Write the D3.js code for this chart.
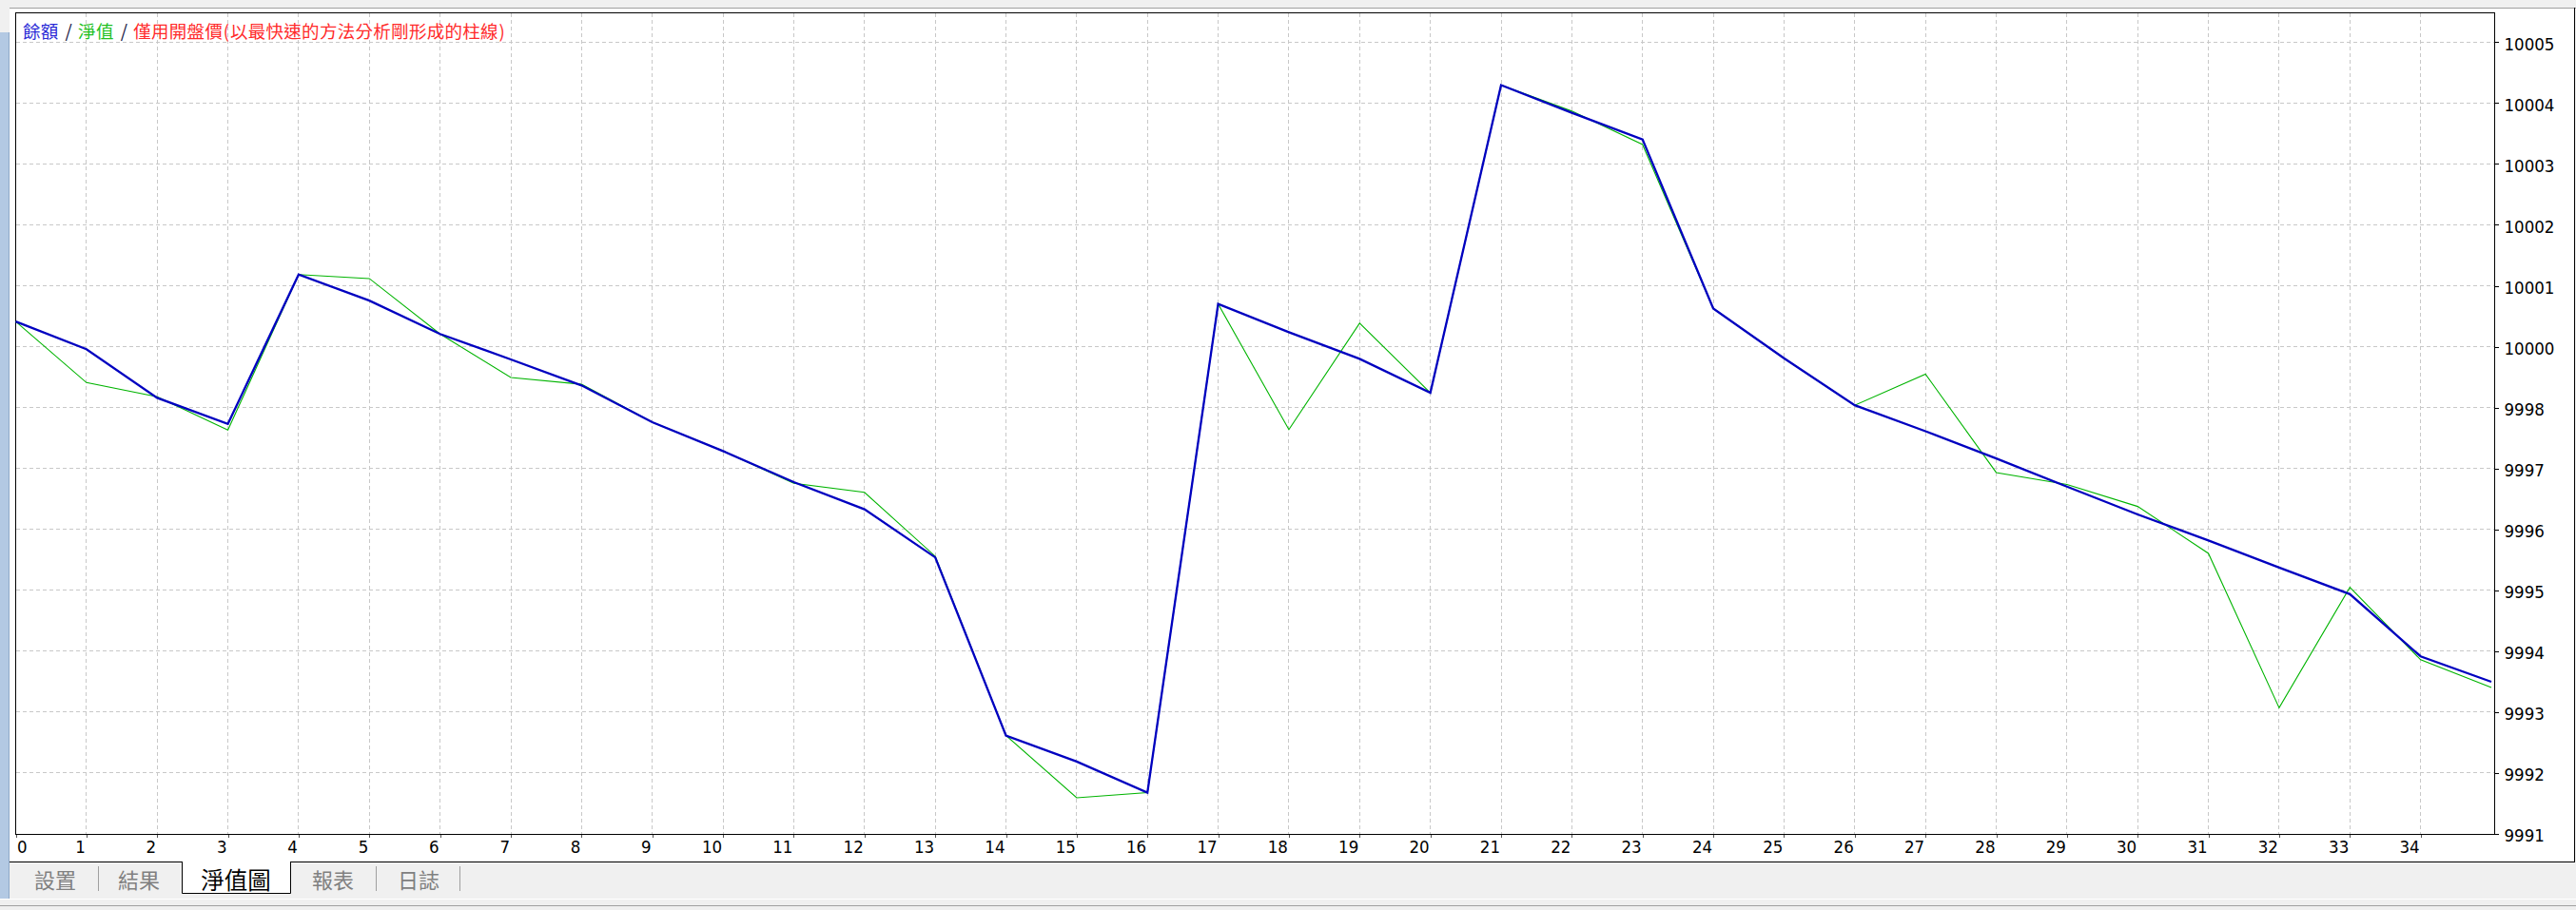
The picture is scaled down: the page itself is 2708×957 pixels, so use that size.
<!DOCTYPE html>
<html><head><meta charset="utf-8">
<script src="https://cdn.jsdelivr.net/npm/d3@7"></script>
<style>
html,body{margin:0;padding:0;background:#f0f0f0;overflow:hidden;}
svg{display:block;}
</style></head><body>
<svg id="c" width="2708" height="957"></svg>
<script>
// ---------- data ----------
const xTickLabels = [0,1,2,3,4,5,6,7,8,9,10,11,12,13,14,15,16,17,18,19,20,21,22,23,24,25,26,27,28,29,30,31,32,33,34];
const yTickLabels = ["9991","9992","9993","9994","9995","9996","9997","9998","10000","10001","10002","10003","10004","10005"];
const yMin = 9991, yMax = 10005;
const balance = [10000.06, 9999.57, 9998.71, 9998.25, 10000.89, 10000.43, 9999.84, 9999.39, 9998.93, 9998.28,
  9997.77, 9997.22, 9996.74, 9995.89, 9992.74, 9992.28, 9991.73, 10000.37, 9999.87, 9999.40,
  9998.80, 10004.24, 10003.75, 10003.28, 10000.29, 9999.41, 9998.58, 9998.12, 9997.64, 9997.14,
  9996.65, 9996.19, 9995.71, 9995.24, 9994.14, 9993.69];
const equity = [10000.06, 9998.98, 9998.73, 9998.14, 10000.89, 10000.82, 9999.84, 9999.07, 9998.95, 9998.28,
  9997.77, 9997.20, 9997.04, 9995.91, 9992.74, 9991.64, 9991.73, 10000.37, 9998.15, 10000.03,
  9998.80, 10004.24, 10003.78, 10003.19, 10000.29, 9999.41, 9998.58, 9999.13, 9997.39, 9997.18,
  9996.79, 9995.96, 9993.23, 9995.36, 9994.08, 9993.59];
const titleTexts = ["餘額", " / ", "淨值", " / ", "僅用開盤價(以最快速的方法分析剛形成的柱線)"];
const titleColors = ["#2a2ad6", "#101040", "#22c022", "#101040", "#ff2a2a"];
const tabs = ["設置", "結果", "淨值圖", "報表", "日誌"];
const selectedTab = 2;

// ---------- layout ----------
const W = 2708, H = 957;
const plot = {left: 16.5, right: 2622.5, top: 13.5, bottom: 877.5};
const svg = d3.select("#c");

const x = d3.scaleLinear().domain([0, balance.length - 1]).range([16.5, 2619]);
const y = d3.scaleLinear().domain([yMin, yMax]).range([877, 44.3]);
const yTickValues = yTickLabels.map((_, i) => yMin + i * (yMax - yMin) / (yTickLabels.length - 1));

// window chrome
svg.append("rect").attr("x", 10).attr("y", 8).attr("width", 2697).attr("height", 898).attr("fill", "#ffffff");
svg.append("line").attr("x1", 10).attr("x2", W).attr("y1", 8.5).attr("y2", 8.5).attr("stroke", "#a0a0a0");
svg.append("rect").attr("x", 0).attr("y", 34).attr("width", 9).attr("height", 911).attr("fill", "#b3c9e3");
svg.append("line").attr("x1", 9.5).attr("x2", 9.5).attr("y1", 34).attr("y2", 945).attr("stroke", "#8ea8c8");
svg.append("line").attr("x1", 2706.5).attr("x2", 2706.5).attr("y1", 8).attr("y2", 907).attr("stroke", "#000");

// grid
const grid = svg.append("g").attr("shape-rendering", "crispEdges")
  .attr("stroke", "#c8c8c8").attr("stroke-dasharray", "4,3").attr("stroke-width", 1);
grid.selectAll("line.v").data(xTickLabels.filter(d => d > 0)).join("line").attr("class", "v")
  .attr("x1", d => x(d)).attr("x2", d => x(d)).attr("y1", plot.top).attr("y2", plot.bottom);
grid.selectAll("line.h").data(yTickValues.slice(1)).join("line").attr("class", "h")
  .attr("x1", plot.left).attr("x2", plot.right).attr("y1", d => y(d)).attr("y2", d => y(d));

// plot border
svg.append("rect").attr("x", plot.left).attr("y", plot.top)
  .attr("width", plot.right - plot.left).attr("height", plot.bottom - plot.top)
  .attr("fill", "none").attr("stroke", "#000").attr("shape-rendering", "crispEdges");

// series
const line = d3.line().x((d, i) => x(i)).y(d => y(d));
svg.append("path").datum(equity).attr("d", line).attr("fill", "none")
  .attr("stroke", "#00b400").attr("stroke-width", 1.1);
svg.append("path").datum(balance).attr("d", line).attr("fill", "none")
  .attr("stroke", "#0000c0").attr("stroke-width", 2.3).attr("stroke-linejoin", "miter");

// y axis (right)
const axisFont = "'DejaVu Sans Condensed','Liberation Sans',sans-serif";
const yAxis = d3.axisRight(y).tickValues(yTickValues)
  .tickFormat((d, i) => yTickLabels[i]).tickSize(4).tickPadding(6);
const gy = svg.append("g").attr("transform", `translate(${plot.right},0)`).call(yAxis);
gy.select(".domain").remove();
gy.selectAll(".tick line").attr("stroke", "#000").attr("shape-rendering", "crispEdges");
gy.selectAll(".tick text").attr("fill", "#000")
  .style("font-family", axisFont).style("font-size", "18.5px").attr("dy", "0.42em");

// x axis (bottom)
const xAxis = d3.axisBottom(x).tickValues(xTickLabels).tickFormat(d => String(d)).tickSize(3).tickPadding(4);
const gx = svg.append("g").attr("transform", `translate(0,${plot.bottom})`).call(xAxis);
gx.select(".domain").remove();
gx.selectAll(".tick line").attr("stroke", "#555").attr("shape-rendering", "crispEdges");
gx.selectAll(".tick text").attr("fill", "#000")
  .style("font-family", axisFont).style("font-size", "18.5px")
  .attr("y", 13.5).attr("dy", "0.35em")
  .attr("text-anchor", (d, i) => i === 0 ? "start" : "end")
  .attr("x", (d, i) => i === 0 ? 1 : -1.5);

// title: half-width latin, full-width CJK
const title = svg.append("text").attr("y", 31.5).attr("dominant-baseline", "central")
  .style("font-family", "'Noto Sans CJK TC','Noto Sans CJK SC',sans-serif").style("font-size", "18.5px");
let cursor = 24;
const isCJK = ch => /[\u3400-\u9fff]/.test(ch);
const adv = ch => isCJK(ch) ? 18.8 : (ch === " " ? 6.5 : (ch === "/" ? 7.5 : 7.7));
titleTexts.forEach((t, k) => {
  for (const ch of t) {
    if (ch !== " ") {
      title.append("tspan").attr("x", cursor + (isCJK(ch) ? 0 : 0.5)).attr("fill", titleColors[k]).text(ch);
    }
    cursor += adv(ch);
  }
});

// tab bar
const tabCenters = [58, 146, 248, 350, 440];
const sepXs = [103.5, 395.5, 483.5];
svg.append("line").attr("x1", 10).attr("x2", 191).attr("y1", 906.5).attr("y2", 906.5).attr("stroke", "#000");
svg.append("line").attr("x1", 306).attr("x2", 2707).attr("y1", 906.5).attr("y2", 906.5).attr("stroke", "#000");
svg.append("path").attr("d", "M191.5,906 V939.5 H305.5 V906").attr("fill", "#fff").attr("stroke", "#000");
svg.append("rect").attr("x", 192).attr("y", 905).attr("width", 113).attr("height", 2).attr("fill", "#fff");
svg.selectAll("line.sep").data(sepXs).join("line").attr("class", "sep")
  .attr("x1", d => d).attr("x2", d => d).attr("y1", 911).attr("y2", 937).attr("stroke", "#a0a0a0");
svg.selectAll("text.tab").data(tabs).join("text").attr("class", "tab")
  .attr("x", (d, i) => tabCenters[i]).attr("y", 924).attr("text-anchor", "middle")
  .attr("dominant-baseline", "central")
  .style("font-family", "'Noto Sans CJK TC','Noto Sans CJK SC',sans-serif")
  .style("font-size", (d, i) => i === selectedTab ? "24.5px" : "22px")
  .attr("fill", (d, i) => i === selectedTab ? "#000" : "#808080")
  .text(d => d);

// bottom status lines
svg.append("line").attr("x1", 0).attr("x2", W).attr("y1", 945.5).attr("y2", 945.5).attr("stroke", "#ffffff");
svg.append("line").attr("x1", 0).attr("x2", W).attr("y1", 952.5).attr("y2", 952.5).attr("stroke", "#a0a0a0");
</script>
</body></html>
